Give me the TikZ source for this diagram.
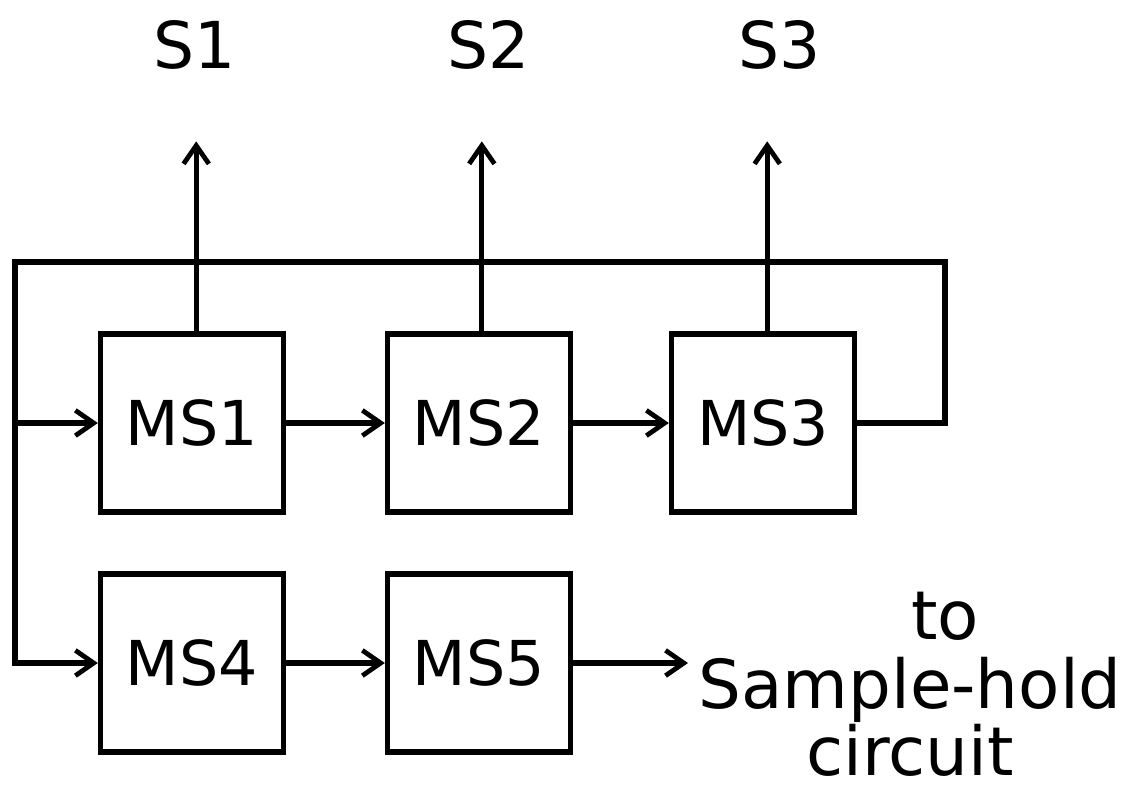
\documentclass[tikz,border=0pt]{standalone}
\usepackage{fontspec}
\setmainfont{DejaVu Sans}
\usetikzlibrary{arrows.meta}

\tikzset{
  msbox/.style={draw,line width=3.8pt,minimum width=183pt*0.711,minimum height=178pt*0.711,inner sep=0pt,font=\fontsize{44}{50}\selectfont},
  wire/.style={line width=3.6pt},
  lbl/.style={font=\fontsize{46}{52}\selectfont,inner sep=0pt}
}

\begin{document}
\begin{tikzpicture}[x=0.025cm,y=-0.025cm,>={Straight Barb[length=13pt,width=18pt,line width=3.4pt]}]
      \useasboundingbox (0,0) rectangle (1128,798);

      % the stages
      \node[msbox] (ms1) at (192,423) {MS1};
      \node[msbox] (ms2) at (479,423) {MS2};
      \node[msbox] (ms3) at (763,423) {MS3};
      \node[msbox] (ms4) at (192,663) {MS4};
      \node[msbox] (ms5) at (479,663) {MS5};

      \node[lbl] (s1) at (195,45) {S1};
      \node[lbl] (s2) at (489,45) {S2};
      \node[lbl] (s3) at (780,45) {S3};

      \node[lbl,font=\fontsize{48}{44}\selectfont,align=center] (out) at (910,684) {\hspace*{50pt}to\\[5pt]Sample-hold\\circuit};

      \coordinate (tr) at (945,262);
      \coordinate (tl) at (15,262);
      \coordinate (sh) at (688,663);

      % loop back
      \draw[wire,->] (ms3.east) -| (tr) -- (tl) |- (ms4.west);
      \draw[wire,->] (ms1.west -| tl) -- (ms1.west);

      \draw[wire,->] (ms1) -- (ms2);
      \draw[wire,->] (ms2) -- (ms3);
      \draw[wire,->] (ms4) -- (ms5);
      \draw[wire,->] (ms5) -- (sh);

      % outputs
      \draw[wire,->] ([xshift=3pt]ms1.north) -- ++(0,-190);
      \draw[wire,->] ([xshift=2pt]ms2.north) -- ++(0,-190);
      \draw[wire,->] ([xshift=3pt]ms3.north) -- ++(0,-190);
    \end{tikzpicture}
\end{document}
